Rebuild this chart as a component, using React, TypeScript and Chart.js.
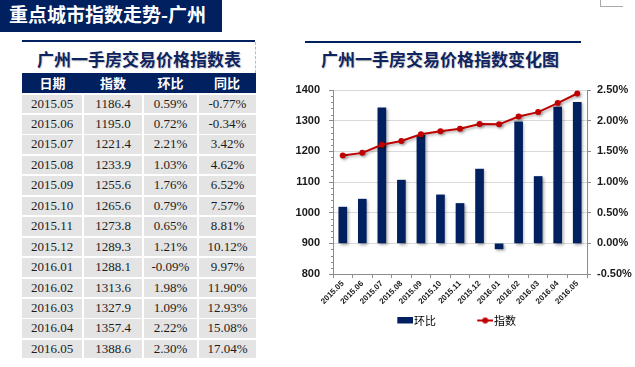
import React, { useEffect, useRef } from "react";
import { Chart, registerables } from "chart.js";

Chart.register(...registerables);

// ---------- data ----------
const months = [
  "2015.05", "2015.06", "2015.07", "2015.08", "2015.09", "2015.10", "2015.11",
  "2015.12", "2016.01", "2016.02", "2016.03", "2016.04", "2016.05",
];
const indexValues = [
  1186.4, 1195.0, 1221.4, 1233.9, 1255.6, 1265.6, 1273.8, 1289.3, 1288.1, 1313.6, 1327.9, 1357.4, 1388.6,
];
const momValues = [0.59, 0.72, 2.21, 1.03, 1.76, 0.79, 0.65, 1.21, -0.09, 1.98, 1.09, 2.22, 2.30];
const yoyValues = [-0.77, -0.34, 3.42, 4.62, 6.52, 7.57, 8.81, 10.12, 9.97, 11.9, 12.93, 15.08, 17.04];
const tableHeaders = ["日期", "指数", "环比", "同比"];
const indexTickRange = [800, 1400, 100];
const momTickRange = [-0.5, 2.5, 0.5];

const pageTitle = "重点城市指数走势-广州";
const tableTitle = "广州一手房交易价格指数表";
const chartTitle = "广州一手房交易价格指数变化图";
const seriesBarLabel = "环比";
const seriesLineLabel = "指数";

// ---------- styles ----------
const NAVY = "#002060";
const RED = "#C00000";
const AXIS = "#8C8C8C";
const GRID = "#D9D9D9";
const CJK = '"Noto Sans CJK SC", "Noto Sans", sans-serif';
const SANS = '"Liberation Sans", Arial, sans-serif';
const SERIF = '"Liberation Serif", "Times New Roman", serif';

const colEdges = [22, 83, 143, 198, 256];
const headerTop = 73;
const headerHeight = 20;
const rowTop = 94.5;
const rowPitch = 20.45;
const rowHeight = 18.6;

const CANVAS_LEFT = 241;
const CANVAS_TOP = 70;
const CANVAS_W = 394;
const CANVAS_H = 290;
const LEGEND_W = 48.5;
const LEGEND_EXT = 4.5;

function legendImage(kind: "bar" | "line"): HTMLCanvasElement {
  const c = document.createElement("canvas");
  const w = Math.round(LEGEND_W + 2 * LEGEND_EXT);
  c.width = w;
  c.height = 8;
  const g = c.getContext("2d")!;
  if (kind === "bar") {
    g.fillStyle = NAVY;
    g.fillRect(w - 16, 0, 16, 7);
  } else {
    const x0 = w - 16;
    g.strokeStyle = RED;
    g.lineWidth = 2;
    g.beginPath();
    g.moveTo(x0, 4);
    g.lineTo(w, 4);
    g.stroke();
    g.fillStyle = RED;
    g.beginPath();
    g.arc(x0 + 8, 4, 3, 0, Math.PI * 2);
    g.fill();
  }
  return c;
}

const shadowPlugin = {
  id: "softShadow",
  beforeDatasetDraw(chart: any) {
    const c = chart.ctx;
    c.save();
    c.shadowColor = "rgba(0,0,0,0.35)";
    c.shadowBlur = 3;
    c.shadowOffsetX = 1.5;
    c.shadowOffsetY = 1.5;
  },
  afterDatasetDraw(chart: any) {
    chart.ctx.restore();
  },
};

const minorTickPlugin = {
  id: "minorTicks",
  afterDraw(chart: any) {
    const s = chart.scales.y;
    const c = chart.ctx;
    c.save();
    c.strokeStyle = AXIS;
    c.lineWidth = 1;
    const [lo, hi, step] = indexTickRange;
    const minor = step / 5;
    for (let v = lo + minor; v < hi; v += minor) {
      if (Math.abs(v / step - Math.round(v / step)) < 1e-6) continue;
      const py = Math.round(s.getPixelForValue(v)) + 0.5;
      c.beginPath();
      c.moveTo(s.right - 2, py);
      c.lineTo(s.right, py);
      c.stroke();
    }
    c.restore();
  },
};

function ChartBox() {
  const ref = useRef<HTMLCanvasElement | null>(null);
  useEffect(() => {
    if (!ref.current) return;
    const imgBar = legendImage("bar");
    const imgLine = legendImage("line");
    const tickFont = { family: SANS, size: 11, weight: "bold" as const };
    const chart = new Chart(ref.current, {
      type: "bar",
      data: {
        labels: months,
        datasets: [
          {
            type: "bar",
            label: seriesBarLabel,
            data: momValues,
            yAxisID: "y1",
            backgroundColor: NAVY,
            borderWidth: 0,
            barThickness: 8,
            order: 1,
          } as any,
          {
            type: "line",
            label: seriesLineLabel,
            data: indexValues,
            yAxisID: "y",
            borderColor: RED,
            backgroundColor: RED,
            borderWidth: 2,
            pointRadius: 3,
            pointBackgroundColor: RED,
            pointBorderColor: RED,
            pointBorderWidth: 0,
            tension: 0,
            order: 0,
          } as any,
        ],
      },
      options: {
        animation: false,
        responsive: false,
        devicePixelRatio: 1,
        layout: { padding: { top: 20, bottom: 24, left: 0, right: 0 } },
        plugins: {
          tooltip: { enabled: false },
          legend: {
            position: "bottom",
            labels: {
              usePointStyle: true,
              pointStyleWidth: LEGEND_W,
              padding: 4,
              color: "#111",
              font: { family: CJK, size: 11 },
              generateLabels: () => [
                { text: seriesBarLabel, pointStyle: imgBar, fillStyle: NAVY, strokeStyle: NAVY, lineWidth: 0, hidden: false, datasetIndex: 0 } as any,
                { text: seriesLineLabel, pointStyle: imgLine, fillStyle: RED, strokeStyle: RED, lineWidth: 0, hidden: false, datasetIndex: 1 } as any,
              ],
            },
          },
        },
        scales: {
          x: {
            offset: true,
            grid: { display: true, drawOnChartArea: false, offset: true, color: AXIS, tickLength: 4 },
            border: { color: AXIS },
            ticks: {
              autoSkip: false,
              maxRotation: 45,
              minRotation: 45,
              padding: 1,
              color: "#1a1a1a",
              font: { family: SANS, size: 8, weight: "bold" },
            },
            afterFit: (s: any) => {
              s.height = 37;
            },
          },
          y: {
            position: "left",
            min: indexTickRange[0],
            max: indexTickRange[1],
            ticks: {
              stepSize: indexTickRange[2],
              padding: 9,
              color: "#1a1a1a",
              font: tickFont,
              callback: (v: any) => String(v),
            },
            grid: { color: GRID, tickColor: AXIS, tickLength: 4 },
            border: { color: AXIS },
            afterFit: (s: any) => {
              s.width = 333 - CANVAS_LEFT;
            },
          },
          y1: {
            position: "right",
            min: momTickRange[0],
            max: momTickRange[1],
            ticks: {
              stepSize: momTickRange[2],
              padding: 6,
              color: "#1a1a1a",
              font: tickFont,
              callback: (v: any) => Number(v).toFixed(2) + "%",
            },
            grid: { drawOnChartArea: false, color: AXIS, tickLength: 4 },
            border: { color: AXIS },
            afterFit: (s: any) => {
              s.width = CANVAS_LEFT + CANVAS_W - 587;
            },
          },
        },
      } as any,
      plugins: [shadowPlugin, minorTickPlugin],
    });
    return () => chart.destroy();
  }, []);
  return (
    <canvas
      ref={ref}
      width={CANVAS_W}
      height={CANVAS_H}
      style={{ position: "absolute", left: CANVAS_LEFT, top: CANVAS_TOP, width: CANVAS_W, height: CANVAS_H }}
    />
  );
}

export default function App() {
  const cells: React.ReactNode[] = [];
  cells.push(
    <div
      key="hdrbg"
      style={{
        position: "absolute",
        left: colEdges[0],
        top: headerTop,
        width: colEdges[4] - colEdges[0],
        height: headerHeight,
        background: NAVY,
      }}
    />
  );
  tableHeaders.forEach((h, c) => {
    cells.push(
      <div
        key={"h" + c}
        style={{
          position: "absolute",
          left: colEdges[c],
          top: headerTop,
          width: colEdges[c + 1] - colEdges[c],
          height: headerHeight,
          lineHeight: headerHeight + "px",
          textAlign: "center",
          color: "#fff",
          fontFamily: CJK,
          fontWeight: 700,
          fontSize: 13,
        }}
      >
        {h}
      </div>
    );
  });
  months.forEach((m, r) => {
    const vals = [m, indexValues[r].toFixed(1), momValues[r].toFixed(2) + "%", yoyValues[r].toFixed(2) + "%"];
    vals.forEach((v, c) => {
      const left = colEdges[c] + (c > 0 ? 1 : 0);
      const right = colEdges[c + 1] - (c < 3 ? 1 : 0);
      cells.push(
        <div
          key={r + "_" + c}
          style={{
            position: "absolute",
            left,
            top: rowTop + r * rowPitch,
            width: right - left,
            height: rowHeight,
            lineHeight: rowHeight + "px",
            background: "#E4E4E4",
            textAlign: "center",
            color: "#1c1c1c",
            fontFamily: SERIF,
            fontSize: 13,
          }}
        >
          {v}
        </div>
      );
    });
  });

  const titleStyle: React.CSSProperties = {
    position: "absolute",
    top: 47,
    height: 24,
    lineHeight: "24px",
    textAlign: "center",
    color: "#0E2460",
    fontFamily: CJK,
    fontWeight: 700,
    fontSize: 17,
    textShadow: "1px 1px 1px rgba(0,0,0,0.2)",
    whiteSpace: "nowrap",
  };

  return (
    <div
      style={{
        position: "absolute",
        left: 0,
        top: 0,
        width: 635,
        height: 367,
        background: "#fff",
        overflow: "hidden",
      }}
    >
      <div style={{ position: "absolute", left: 0, top: 0, width: 222, height: 32, background: NAVY }} />
      <div
        style={{
          position: "absolute",
          left: 9,
          top: 0,
          height: 27,
          lineHeight: "27px",
          color: "#fff",
          fontFamily: CJK,
          fontWeight: 700,
          fontSize: 19,
          whiteSpace: "nowrap",
        }}
      >
        {pageTitle}
      </div>
      <div
        style={{
          position: "absolute",
          left: 600,
          top: 0,
          width: 22,
          height: 6,
          borderLeft: "1px solid #AAAAAA",
          borderBottom: "1px solid #AAAAAA",
        }}
      />
      <div style={{ position: "absolute", left: 22, top: 40, width: 233, height: 2, background: NAVY }} />
      <div
        style={{
          position: "absolute",
          left: 255,
          top: 42,
          width: 0,
          height: 31,
          borderLeft: "1px dashed #BBBBBB",
        }}
      />
      <div style={{ ...titleStyle, left: 22, width: 234 }}>{tableTitle}</div>
      {cells}
      <div style={{ position: "absolute", left: 305, top: 41, width: 276, height: 2, background: NAVY }} />
      <div style={{ ...titleStyle, left: 290, width: 300 }}>{chartTitle}</div>
      <ChartBox />
    </div>
  );
}
